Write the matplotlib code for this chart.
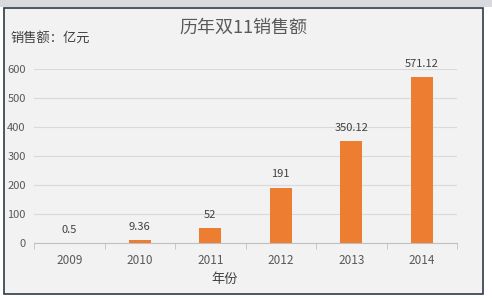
import matplotlib.pyplot as plt
from matplotlib.patches import Rectangle

plt.rcParams['font.family'] = ['Noto Sans CJK SC', 'DejaVu Sans']

years = ['2009', '2010', '2011', '2012', '2013', '2014']
sales = [0.5, 9.36, 52, 191, 350.12, 571.12]
labels = ['0.5', '9.36', '52', '191', '350.12', '571.12']
y_ticks = [0, 100, 200, 300, 400, 500, 600]

W, H = 492, 298
fig = plt.figure(figsize=(W / 100, H / 100), dpi=100, facecolor='white')

# chart frame with light background (and a faint shadow on top)
fig.patches.append(Rectangle((0, 1 - 7 / H), 1, 7 / H, transform=fig.transFigure,
                             facecolor='#d8dadd', edgecolor='none', zorder=-2))
fig.patches.append(Rectangle((3.5 / W, 1 - 293.5 / H), 479 / W, 286 / H,
                             transform=fig.transFigure, facecolor='#f2f2f2',
                             edgecolor='#2e3b48', linewidth=1.2, zorder=-1))

ax = fig.add_axes([34 / W, 1 - 243 / H, 423 / W, 174 / H])
ax.set_facecolor('none')
ax.set_zorder(2)

x = range(len(years))
bars = ax.bar(x, sales, width=0.31, color='#ed7d31', zorder=3)
for i, (v, lab) in enumerate(zip(sales, labels)):
    ax.annotate(lab, (i, v), xytext=(0, 6), textcoords='offset points',
                ha='center', va='bottom', fontsize=8, color='#404040',
                annotation_clip=False)

ax.set_xlim(-0.5, len(years) - 0.5)
ax.set_ylim(0, 600)
ax.set_yticks(y_ticks)
ax.yaxis.grid(True, color='#d9d9d9', linewidth=0.8)
ax.set_axisbelow(True)

ax.set_xticks(list(x))
ax.set_xticklabels(years)
ax.set_xticks([i - 0.5 for i in range(len(years) + 1)], minor=True)
ax.tick_params(axis='x', which='major', length=0, labelsize=8.5,
               labelcolor='#595959', pad=8)
ax.tick_params(axis='x', which='minor', length=4, color='#bfbfbf', direction='out')
ax.tick_params(axis='y', length=0, labelsize=8, labelcolor='#595959', pad=6)

for side in ['top', 'right', 'left']:
    ax.spines[side].set_visible(False)
ax.spines['bottom'].set_color('#bfbfbf')

ax.set_xlabel('年份', fontsize=9.5, color='#404040')
ax.xaxis.set_label_coords(0.45, -0.17)

fig.text(243 / W, 1 - 28 / H, '历年双11销售额', ha='center', va='center',
         fontsize=13, color='#595959')
fig.text(10 / W, 1 - 38 / H, '销售额：亿元', ha='left', va='center',
         fontsize=9.5, color='#404040')

fig.savefig('out.png', dpi=100, facecolor=fig.get_facecolor())
